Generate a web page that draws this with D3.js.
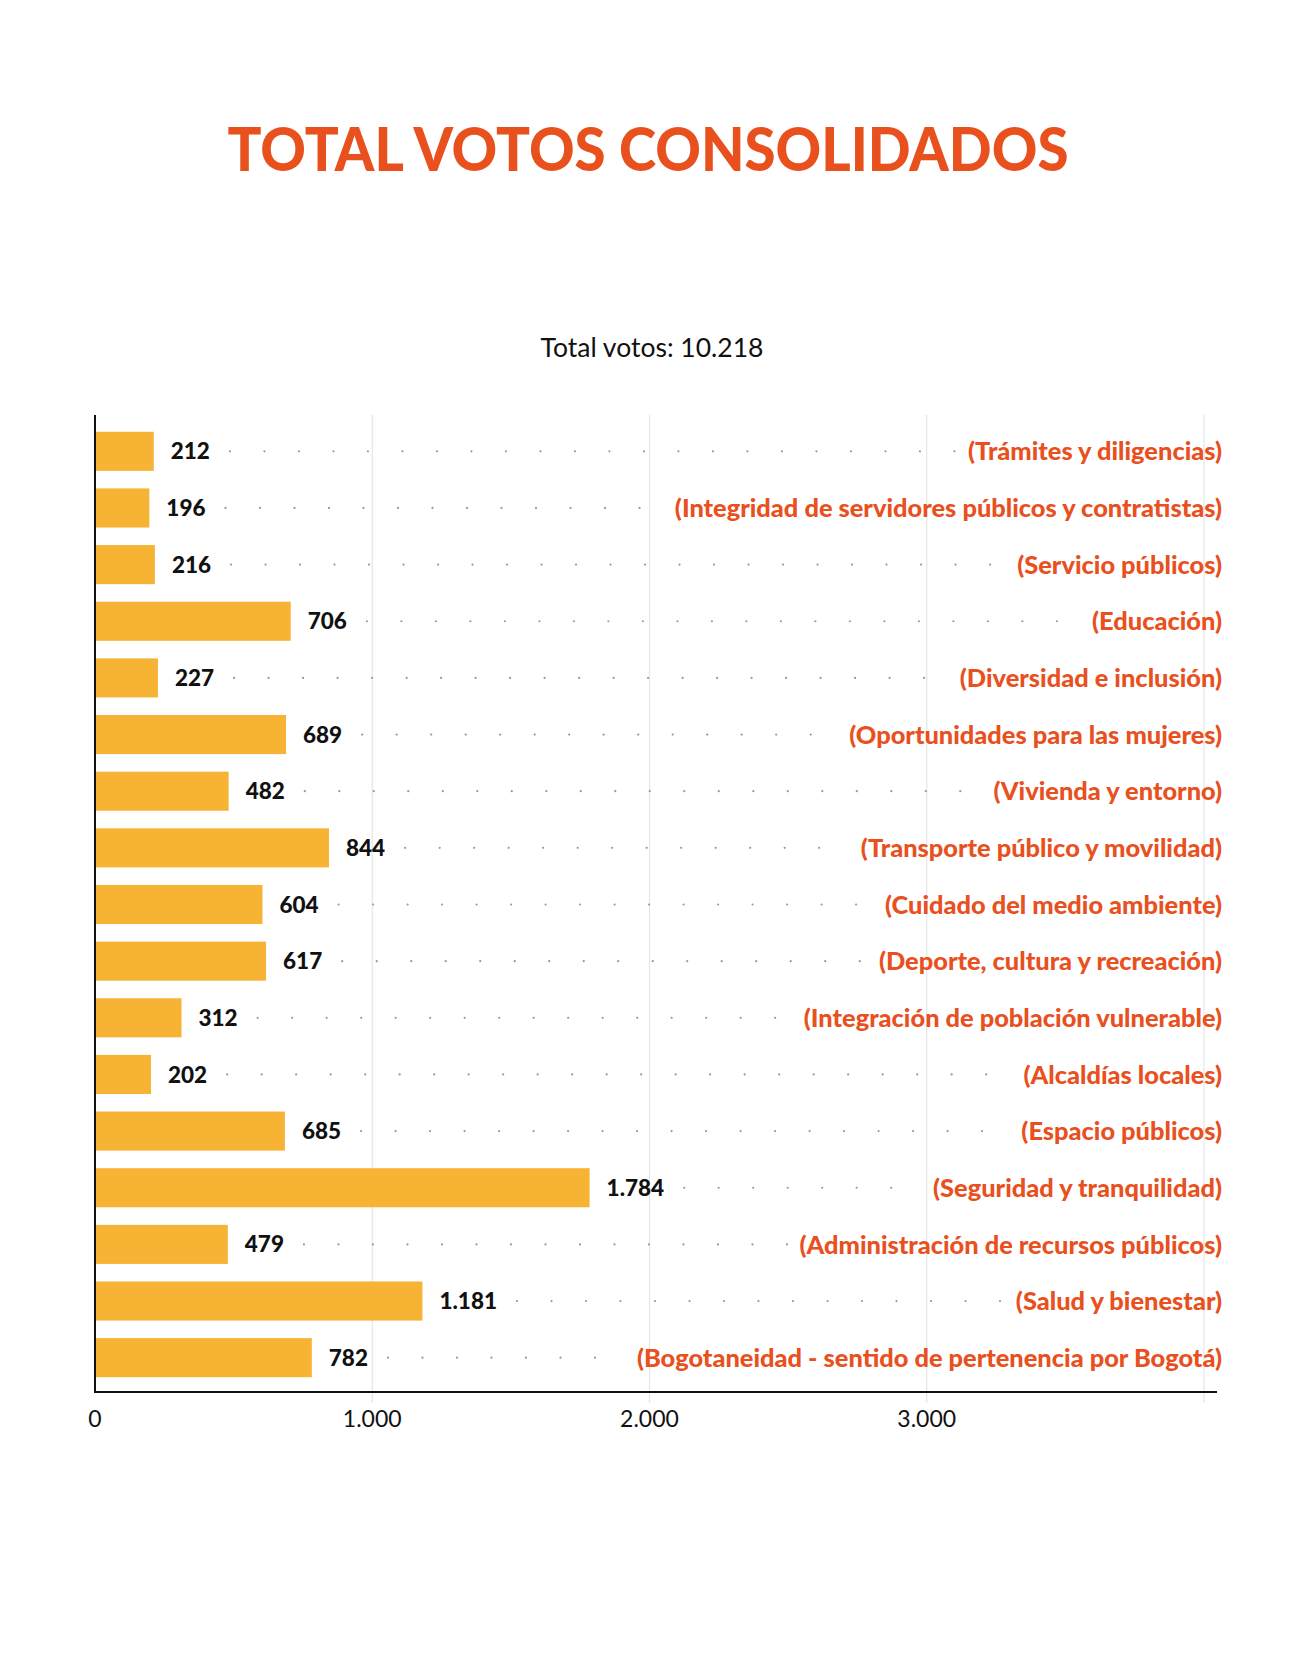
<!DOCTYPE html>
<html><head><meta charset="utf-8">
<script src="https://cdn.jsdelivr.net/npm/d3@7"></script>
<style>
html,body{margin:0;padding:0;background:#fff;}
svg{display:block;}
</style></head>
<body>
<svg id="chart" width="1302" height="1660"></svg>
<script>
const categories = [
  "(Trámites y diligencias)",
  "(Integridad de servidores públicos y contratistas)",
  "(Servicio públicos)",
  "(Educación)",
  "(Diversidad e inclusión)",
  "(Oportunidades para las mujeres)",
  "(Vivienda y entorno)",
  "(Transporte público y movilidad)",
  "(Cuidado del medio ambiente)",
  "(Deporte, cultura y recreación)",
  "(Integración de población vulnerable)",
  "(Alcaldías locales)",
  "(Espacio públicos)",
  "(Seguridad y tranquilidad)",
  "(Administración de recursos públicos)",
  "(Salud y bienestar)",
  "(Bogotaneidad - sentido de pertenencia por Bogotá)"
];
const values = [212,196,216,706,227,689,482,844,604,617,312,202,685,1784,479,1181,782];
const tickValues = [0,1000,2000,3000];
const gridValues = [1000,2000,3000,4000];
const titleText = "TOTAL VOTOS CONSOLIDADOS";
const subtitleText = "Total votos: 10.218";

const ORANGE = "#E8501E", BAR = "#F7B334";
const loc = d3.formatLocale({decimal:",", thousands:".", grouping:[3], currency:["$",""]});
const fmt = loc.format(",d");

const svg = d3.select("#chart");
const x = d3.scaleLinear().domain([0,4000]).range([95,1204]);
const y = d3.scaleBand().domain(categories).range([423,1386]).paddingInner(0.31).paddingOuter(0.155);
const plotTop = 415, plotBase = 1392;

// title
svg.append("text").attr("x",648).attr("y",171).attr("text-anchor","middle")
  .attr("font-family","Lato, 'DejaVu Sans', sans-serif").attr("font-weight",900)
  .attr("font-size",60).attr("fill",ORANGE)
  .attr("textLength",841).attr("lengthAdjust","spacingAndGlyphs").text(titleText);
svg.append("text").attr("x",652).attr("y",357).attr("text-anchor","middle")
  .attr("font-family","Lato, sans-serif").attr("font-weight",400)
  .attr("font-size",26.5).attr("fill","#111").text(subtitleText);

// gridlines
svg.append("g").selectAll("line").data(gridValues).join("line")
  .attr("x1",d=>x(d)).attr("x2",d=>x(d)).attr("y1",plotTop).attr("y2",1403)
  .attr("stroke","#e6e6e6").attr("stroke-width",1.2);

// bars
svg.append("g").selectAll("rect").data(values).join("rect")
  .attr("x",x(0)).attr("y",(d,i)=>y(categories[i]))
  .attr("width",d=>x(d)-x(0)).attr("height",y.bandwidth()).attr("fill",BAR);

// value labels
const vl = svg.append("g").selectAll("text").data(values).join("text")
  .attr("x",d=>x(d)+17).attr("y",(d,i)=>y(categories[i])+y.bandwidth()/2)
  .attr("dy","0.36em")
  .attr("font-family","Lato, sans-serif").attr("font-weight",900)
  .attr("font-size",22.5).attr("fill","#111").text(d=>fmt(d));

// category labels
const cl = svg.append("g").selectAll("text").data(categories).join("text")
  .attr("x",1222).attr("y",d=>y(d)+y.bandwidth()/2).attr("dy","0.36em")
  .attr("text-anchor","end")
  .attr("font-family","Lato, sans-serif").attr("font-weight",900)
  .attr("font-size",25.4).attr("fill",ORANGE).text(d=>d);

// dotted leaders
const vNodes = vl.nodes(), cNodes = cl.nodes();
const dotG = svg.append("g");
values.forEach((v,i)=>{
  const x0 = x(v)+17+vNodes[i].getComputedTextLength()+20;
  const x1 = 1222 - cNodes[i].getComputedTextLength() - 10;
  const cy = y(categories[i])+y.bandwidth()/2;
  const pts = d3.range(x0, x1, 34.5);
  dotG.append("g").selectAll("circle").data(pts).join("circle")
    .attr("cx",d=>d).attr("cy",cy).attr("r",1.1).attr("fill","#999");
});

// axes lines
svg.append("line").attr("x1",x(0)).attr("x2",x(0)).attr("y1",plotTop).attr("y2",plotBase+1)
  .attr("stroke","#111").attr("stroke-width",2);
svg.append("line").attr("x1",x(0)-1).attr("x2",1217).attr("y1",plotBase).attr("y2",plotBase)
  .attr("stroke","#111").attr("stroke-width",2);

// tick labels
svg.append("g").selectAll("text").data(tickValues).join("text")
  .attr("x",d=>x(d)).attr("y",1427).attr("text-anchor","middle")
  .attr("font-family","Lato, sans-serif").attr("font-size",23).attr("fill","#111")
  .text(d=>fmt(d));
</script>
</body></html>
